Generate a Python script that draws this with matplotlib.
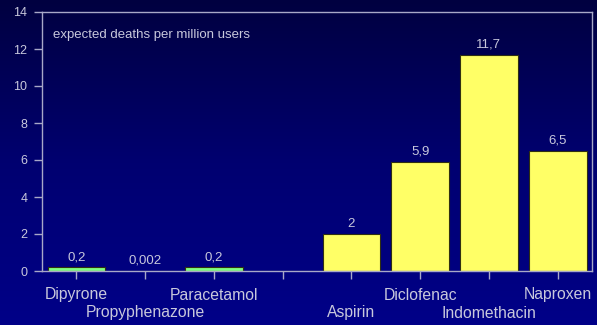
import numpy as np
import matplotlib
matplotlib.use("Agg")
import matplotlib.pyplot as plt
from matplotlib.colors import LinearSegmentedColormap

plt.rcParams['font.family'] = ['Liberation Sans', 'DejaVu Sans']

drugs = ["Dipyrone", "Propyphenazone", "Paracetamol", "",
         "Aspirin", "Diclofenac", "Indomethacin", "Naproxen"]
deaths = [0.2, 0.002, 0.2, 0.0, 2.0, 5.9, 11.7, 6.5]
value_labels = ["0,2", "0,002", "0,2", "", "2", "5,9", "11,7", "6,5"]
bar_colors = ["#80ff80", "#7a7440", "#80ff80", "none",
              "#ffff66", "#ffff66", "#ffff66", "#ffff66"]
y_ticks = [0, 2, 4, 6, 8, 10, 12, 14]

text_col = "#c8c8dc"
axis_col = "#a8a8c8"

fig = plt.figure(figsize=(5.97, 3.25), dpi=100)

# vertical navy gradient behind everything
bg = fig.add_axes([0, 0, 1, 1], zorder=-1)
grad = np.linspace(0, 1, 256).reshape(-1, 1)
cmap = LinearSegmentedColormap.from_list("navy", ["#000040", "#000070", "#000088"])
bg.imshow(grad, aspect="auto", cmap=cmap, extent=[0, 1, 0, 1], origin="upper")
bg.axis("off")

ax = fig.add_axes([42 / 597, 1 - 271 / 325, 550 / 597, 259 / 325])
ax.set_facecolor("none")

x = np.arange(len(drugs))
bars = ax.bar(x, deaths, width=0.84, color=bar_colors, edgecolor="#303010",
              linewidth=0.8)
for i, (b, lab) in enumerate(zip(bars, value_labels)):
    if not lab:
        continue
    ax.annotate(lab, (b.get_x() + b.get_width() / 2, deaths[i]),
                xytext=(0, 4), textcoords="offset pixels",
                ha="center", va="bottom", color=text_col, fontsize=9.5)

ax.set_xlim(-0.5, len(drugs) - 0.5)
ax.set_ylim(0, 14)
ax.set_yticks(y_ticks)
ax.set_yticklabels([str(v) for v in y_ticks], fontsize=9, color=text_col)
ax.set_xticks(x)
ax.set_xticklabels([])
ax.tick_params(axis="both", colors=axis_col, length=6, width=1)
ax.tick_params(axis="y", labelcolor=text_col, pad=4.5)

for sp in ax.spines.values():
    sp.set_color(axis_col)
    sp.set_linewidth(1)

# category names staggered over two rows, alternating among the named slots
named = [i for i, n in enumerate(drugs) if n]
for k, i in enumerate(named):
    dy = -24 if k % 2 == 0 else -42
    ax.annotate(drugs[i], (i, 0), xytext=(0, dy), textcoords="offset pixels",
                ha="center", va="center", color=text_col, fontsize=11.3,
                annotation_clip=False)

ax.text(0.02, 0.91, "expected deaths per million users", transform=ax.transAxes,
        color=text_col, fontsize=9.5, ha="left", va="center")

fig.savefig("out.png", dpi=100)
